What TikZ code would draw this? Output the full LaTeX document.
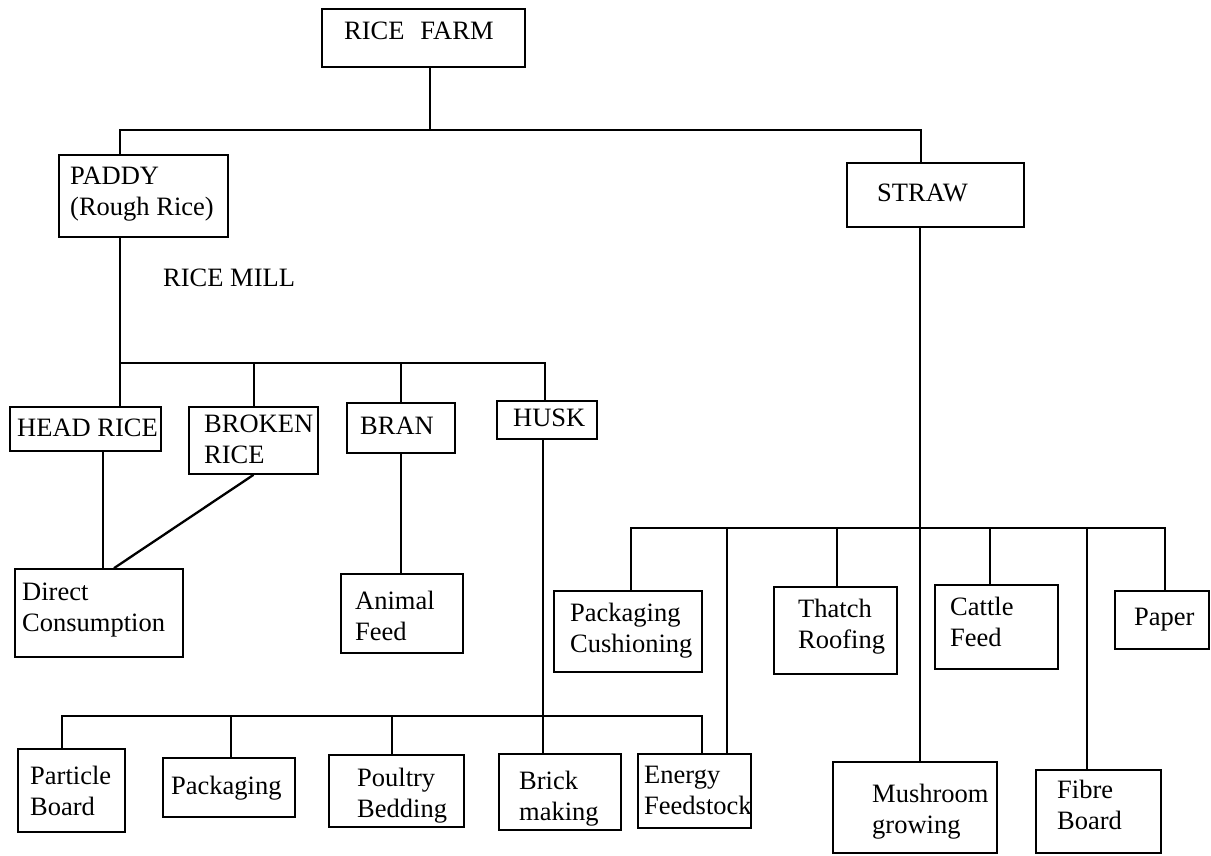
\documentclass[tikz,border=0pt]{standalone}
\usepackage{fontspec}
\setmainfont{Liberation Serif}
\newcommand{\lblfont}{\fontsize{26.5}{31}\selectfont}
\begin{document}
\begin{tikzpicture}[x=1pt,y=-1pt,
  box/.style={draw, line width=1.7pt, rectangle, inner sep=0pt},
  lbl/.style={anchor=north west, inner sep=0pt, align=left, font=\lblfont},
  wire/.style={line width=1.7pt}]
\useasboundingbox (0,0) rectangle (1211,855);

% ---- boxes (centre, width, height) ----
\node[box, minimum width=203pt, minimum height=58pt] (farm) at (423.5,38) {};
\node[box, minimum width=169pt, minimum height=82pt] (paddy) at (143.5,196) {};
\node[box, minimum width=177pt, minimum height=64pt] (straw) at (935.5,195) {};
\node[box, minimum width=151pt, minimum height=44pt] (headrice) at (85.5,429) {};
\node[box, minimum width=129pt, minimum height=67pt] (broken) at (253.5,440.5) {};
\node[box, minimum width=108pt, minimum height=50pt] (bran) at (401,428) {};
\node[box, minimum width=100pt, minimum height=38pt] (husk) at (547,420) {};
\node[box, minimum width=168pt, minimum height=88pt] (direct) at (99,613) {};
\node[box, minimum width=122pt, minimum height=79pt] (animal) at (402,613.5) {};
\node[box, minimum width=148pt, minimum height=81pt] (packcush) at (628,631.5) {};
\node[box, minimum width=123pt, minimum height=87pt] (thatch) at (835.5,630.5) {};
\node[box, minimum width=123pt, minimum height=84pt] (cattle) at (996.5,627) {};
\node[box, minimum width=94pt, minimum height=58pt] (paper) at (1162,620) {};
\node[box, minimum width=107pt, minimum height=83pt] (particle) at (71.5,790.5) {};
\node[box, minimum width=132pt, minimum height=59pt] (packaging) at (229,787.5) {};
\node[box, minimum width=135pt, minimum height=72pt] (poultry) at (396.5,791) {};
\node[box, minimum width=122pt, minimum height=76pt] (brick) at (560,792) {};
\node[box, minimum width=113pt, minimum height=74pt] (energy) at (694.5,791) {};
\node[box, minimum width=164pt, minimum height=91pt] (mushroom) at (915,807.5) {};
\node[box, minimum width=125pt, minimum height=83pt] (fibre) at (1098.5,811.5) {};

% ---- labels ----
\node[lbl] (farmT) at (344,22) {RICE\hspace{0.6em}FARM};
\node[lbl] (paddyT) at (70,167) {PADDY\\(Rough Rice)};
\node[lbl] (millT) at (163,269) {RICE MILL};
\node[lbl] (strawT) at (877,184) {STRAW};
\node[lbl] (headriceT) at (17,419) {HEAD RICE};
\node[lbl] (brokenT) at (204,415) {BROKEN\\RICE};
\node[lbl] (branT) at (360,417) {BRAN};
\node[lbl] (huskT) at (513,409) {HUSK};
\node[lbl] (directT) at (22,583) {Direct\\Consumption};
\node[lbl] (animalT) at (355,591) {Animal\\Feed};
\node[lbl] (packcushT) at (570,603) {Packaging\\Cushioning};
\node[lbl] (thatchT) at (798,599) {Thatch\\Roofing};
\node[lbl] (cattleT) at (950,597) {Cattle\\Feed};
\node[lbl] (paperT) at (1134,608) {Paper};
\node[lbl] (particleT) at (30,766) {Particle\\Board};
\node[lbl] (packagingT) at (171,776) {Packaging};
\node[lbl] (poultryT) at (357,768) {Poultry\\Bedding};
\node[lbl] (brickT) at (519,771) {Brick\\making};
\node[lbl] (energyT) at (644,766) {Energy\\Feedstock};
\node[lbl] (mushroomT) at (872,784) {Mushroom\\growing};
\node[lbl] (fibreT) at (1057,780) {Fibre\\Board};

% ---- junction points and connector columns ----
\coordinate (ja) at (430,130);
\coordinate (jaL) at (120,130);
\coordinate (jaR) at (921,130);
\coordinate (jb) at (120,363);
\coordinate (jbR) at (545,363);
\coordinate (jc) at (62,716);
\coordinate (jcR) at (702,716);
\coordinate (jd) at (631,528);
\coordinate (jdR) at (1165,528);
\coordinate (xHR) at (103,0);
\coordinate (xDC) at (114,0);
\coordinate (xHK) at (543,0);
\coordinate (xPo) at (392,0);
\coordinate (xPk) at (231,0);
\coordinate (xBr) at (254,0);
\coordinate (xS) at (920,0);
\coordinate (xE) at (727,0);
\coordinate (xT) at (837,0);
\coordinate (xC) at (990,0);
\coordinate (xF) at (1087,0);

% farm level
\draw[wire] (farm.south -| ja) -- (ja);
\draw[wire] (paddy.north -| jaL) -- (jaL) -- (jaR) -- (straw.north -| jaR);

% rice mill level
\draw[wire] (paddy.south -| jb) -- (headrice.north -| jb);
\draw[wire] (jb) -- (jbR) -- (husk.north -| jbR);
\draw[wire] (broken.north -| xBr) -- (xBr |- jb);
\draw[wire] (bran.north) -- (bran.north |- jb);

% products of head rice, broken rice and bran
\draw[wire] (headrice.south -| xHR) -- (direct.north -| xHR);
\draw[line width=2.3pt] (broken.south) -- (direct.north -| xDC);
\draw[wire] (bran.south) -- (bran.south |- animal.north);

% husk uses
\draw[wire] (husk.south -| xHK) -- (brick.north -| xHK);
\draw[wire] (particle.north -| jc) -- (jc) -- (jcR) -- (energy.north -| jcR);
\draw[wire] (packaging.north -| xPk) -- (xPk |- jc);
\draw[wire] (poultry.north -| xPo) -- (xPo |- jc);

% straw uses
\draw[wire] (straw.south -| xS) -- (mushroom.north -| xS);
\draw[wire] (packcush.north -| jd) -- (jd) -- (jdR) -- (paper.north -| jdR);
\draw[wire] (energy.north -| xE) -- (xE |- jd);
\draw[wire] (thatch.north -| xT) -- (xT |- jd);
\draw[wire] (cattle.north -| xC) -- (xC |- jd);
\draw[wire] (fibre.north -| xF) -- (xF |- jd);
\end{tikzpicture}
\end{document}
